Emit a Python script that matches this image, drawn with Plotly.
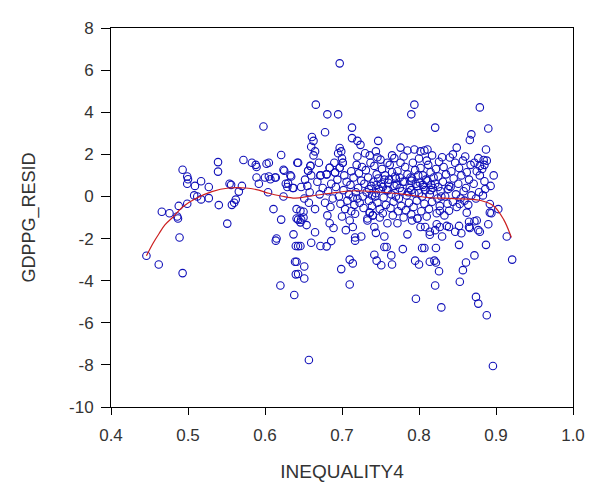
import plotly.graph_objects as go

# Scatter points: INEQUALITY4 (x) vs GDPPG_RESID (y)
x_left = [0.446, 0.462, 0.466, 0.476, 0.486, 0.487, 0.489, 0.488, 0.493, 0.493, 0.499, 0.499, 0.500, 0.499,
          0.509, 0.508, 0.512, 0.517, 0.517, 0.527, 0.527, 0.539, 0.539, 0.540, 0.551, 0.554, 0.556, 0.557,
          0.560, 0.562, 0.566, 0.570, 0.572, 0.583, 0.588, 0.589, 0.589, 0.592, 0.598, 0.602, 0.600, 0.605,
          0.604, 0.613, 0.611, 0.615, 0.614, 0.621, 0.625, 0.624, 0.621, 0.627, 0.629, 0.620, 0.634, 0.637,
          0.633, 0.639, 0.638, 0.640, 0.642, 0.643, 0.640, 0.646, 0.646, 0.641, 0.643, 0.647, 0.646, 0.641,
          0.641, 0.643, 0.643, 0.650, 0.654, 0.650, 0.651, 0.651, 0.657, 0.624, 0.614, 0.607, 0.636, 0.630,
          0.637, 0.647, 0.605]
y_left = [-2.82, -3.23, -0.73, -0.80, -0.95, -1.05, -1.95, -0.45, 1.27, -3.64, -0.35, 0.95, 0.82, 0.60,
          0.50, 0.05, 0.00, 0.72, -0.14, -0.08, 0.45, 1.63, 1.18, -0.41, -1.29, 0.60, 0.55, -0.40,
          -0.30, -0.15, 0.23, 0.50, 1.73, 1.60, 1.50, 1.40, 0.90, 0.60, 3.32, 1.55, 0.90, 0.95,
          0.20, 0.90, -0.60, -2.00, -2.10, 1.97, 1.22, 0.00, -1.10, 0.60, 0.45, -4.23, 0.95, -1.80,
          1.00, -3.10, -4.68, -3.70, 1.60, 1.60, -2.35, -2.35, -0.68, -1.05, -1.10, -1.10, -1.23, -0.60,
          -3.10, -3.68, -2.36, -1.00, -1.36, -0.73, -3.33, -3.90, -7.77, 1.27, 0.90, 0.82, 0.40, 0.62,
          0.40, 0.45, 1.60]

x_sparse = [0.666, 0.661, 0.663, 0.660, 0.665, 0.663, 0.660, 0.672, 0.681, 0.678, 0.680, 0.686, 0.684,
            0.697, 0.695, 0.697, 0.699, 0.695, 0.699, 0.713, 0.713, 0.717, 0.710, 0.714, 0.710, 0.714,
            0.710, 0.717, 0.720, 0.724, 0.730, 0.736, 0.733, 0.747, 0.744, 0.746, 0.742, 0.745, 0.742,
            0.744, 0.749, 0.751, 0.755, 0.758, 0.759, 0.768, 0.764, 0.765, 0.776, 0.779, 0.772, 0.785,
            0.794, 0.790, 0.794, 0.795, 0.796, 0.802, 0.807, 0.800, 0.804, 0.807, 0.802, 0.808, 0.811,
            0.817, 0.814, 0.814, 0.821, 0.822, 0.820, 0.822, 0.826, 0.821, 0.829, 0.821, 0.830, 0.839,
            0.844, 0.849, 0.852, 0.853, 0.857, 0.852, 0.868, 0.866, 0.861, 0.865, 0.879, 0.877, 0.879,
            0.872, 0.874, 0.877, 0.875, 0.887, 0.884, 0.885, 0.885, 0.887, 0.888, 0.890, 0.897, 0.892,
            0.894, 0.896, 0.903, 0.914, 0.921, 0.717, 0.791, 0.798, 0.733, 0.740, 0.736, 0.847, 0.865,
            0.877, 0.879, 0.890, 0.872, 0.866, 0.836, 0.823, 0.827, 0.814, 0.862, 0.892, 0.853, 0.839,
            0.827, 0.665, 0.705, 0.725, 0.755, 0.785, 0.830, 0.855, 0.689]
y_sparse = [4.36, 2.82, 2.64, 2.36, 2.14, 1.95, -2.20, -2.35, 3.90, 3.05, -2.37, -2.12, -1.27,
            6.32, 3.90, 2.30, 2.14, 2.05, -3.45, 3.27, 2.77, -2.10, -3.00, -3.18, -4.18, -1.45,
            -1.14, -0.82, 2.64, 2.45, 2.05, 1.95, -1.05, 2.64, 2.14, 1.86, -2.77, -3.05, -1.45,
            -1.73, -1.00, -3.27, -2.40, -2.40, -1.27, 1.82, -2.80, -3.23, 2.32, -2.50, -1.27, 2.18,
            4.36, 3.90, 2.23, -3.05, -4.86, 2.14, 2.18, -3.23, -2.45, -2.45, -1.45, -1.45, 2.23,
            1.95, -3.10, -1.68, 3.27, -2.45, -3.05, -3.14, -3.55, -4.23, -5.27, -1.60, 1.86, -1.45,
            2.00, 2.32, -2.30, -4.05, -3.50, -1.40, 2.95, 2.68, -3.14, -1.20, 4.23, 1.82, 1.45,
            -2.80, -4.77, -5.09, -1.14, 2.23, 1.73, 1.50, 0.72, -2.30, -5.64, 3.23, 1.00, -0.36,
            -0.80, -8.05, -0.60, -1.90, -3.00, -1.95, -1.14, -1.05, -1.14, -0.90, -0.77, -1.68, -1.45,
            -1.60, -1.68, -1.32, -1.18, -1.50, -1.40, -1.32, -1.45, -1.82, -0.77, -0.77, -0.36, -0.68,
            -0.68, -1.70, -1.60, -1.90, -1.90, -1.80, -1.90, -1.75, -1.50]

x_core = [0.659, 0.656, 0.660, 0.652, 0.655, 0.658, 0.651, 0.657,
          0.672, 0.668, 0.675, 0.671, 0.678, 0.670, 0.665,
          0.680, 0.684, 0.686, 0.682, 0.688, 0.685, 0.681,
          0.691, 0.694, 0.692, 0.696, 0.698, 0.690,
          0.697, 0.701, 0.703, 0.706, 0.702, 0.707, 0.704, 0.709, 0.700,
          0.712, 0.715, 0.711, 0.718, 0.714, 0.716, 0.719, 0.712,
          0.722, 0.725, 0.721, 0.727, 0.723, 0.728, 0.726, 0.729, 0.720,
          0.731, 0.734, 0.738, 0.732, 0.735, 0.739, 0.736, 0.737, 0.739,
          0.742, 0.745, 0.741, 0.748, 0.743, 0.746, 0.749, 0.740, 0.747, 0.744,
          0.752, 0.756, 0.751, 0.758, 0.754, 0.757, 0.753, 0.759, 0.755, 0.753,
          0.762, 0.765, 0.761, 0.768, 0.764, 0.767, 0.763, 0.769, 0.766, 0.760,
          0.772, 0.775, 0.771, 0.778, 0.774, 0.777, 0.776, 0.779, 0.773, 0.770,
          0.782, 0.785, 0.781, 0.788, 0.784, 0.787, 0.783, 0.789, 0.786, 0.780,
          0.792, 0.795, 0.791, 0.798, 0.794, 0.797, 0.793, 0.799, 0.796, 0.790, 0.790,
          0.802, 0.805, 0.801, 0.808, 0.804, 0.807, 0.803, 0.809, 0.800, 0.806, 0.798,
          0.812, 0.815, 0.811, 0.818, 0.814, 0.817, 0.813, 0.819, 0.816, 0.810,
          0.822, 0.825, 0.821, 0.828, 0.824, 0.827, 0.826, 0.829, 0.823,
          0.832, 0.835, 0.831, 0.838, 0.834, 0.837, 0.839, 0.833,
          0.842, 0.845, 0.841, 0.848, 0.844, 0.847, 0.849,
          0.852, 0.855, 0.851, 0.858, 0.854, 0.857, 0.859,
          0.862, 0.865, 0.861, 0.868, 0.867, 0.864,
          0.872, 0.875, 0.871, 0.878, 0.874, 0.879,
          0.882, 0.886, 0.883, 0.888, 0.893,
          0.700, 0.750, 0.780, 0.810, 0.840, 0.860, 0.720, 0.765,
          0.672, 0.680, 0.684, 0.691, 0.697, 0.701, 0.659, 0.656,
          0.735, 0.745, 0.760, 0.775, 0.790, 0.805, 0.815, 0.825, 0.770, 0.800]
y_core = [1.45, 1.22, 1.00, 0.80, 0.50, 0.20, -0.10, -0.30,
          1.00, 0.70, 0.40, 0.10, -0.30, 1.60, -0.60,
          1.05, 1.36, 0.60, 0.25, -0.10, -0.50, -0.90,
          1.14, 0.80, 0.45, 0.00, -0.35, 1.60,
          1.36, 1.60, 1.00, 0.70, 0.30, -0.20, -0.60, 0.10, -0.95,
          1.20, 0.90, 0.55, 0.20, -0.05, -0.40, 1.50, -0.70,
          1.10, 0.75, 0.40, 0.00, -0.30, -0.55, 1.40, 0.60, -0.10,
          1.25, 0.90, 0.50, 0.20, -0.20, -0.45, -0.77, 1.60, 0.05,
          1.45, 1.05, 0.70, 0.35, 0.00, -0.30, -0.60, -0.90, 0.85, 0.15,
          1.30, 1.00, 0.60, 0.30, -0.05, -0.40, -0.80, 1.60, 0.80, 0.45,
          1.50, 1.15, 0.80, 0.50, 0.10, -0.25, -0.55, 0.95, -0.90, 0.30,
          1.20, 0.90, 0.55, 0.25, -0.10, -0.45, 1.60, 0.70, -0.70, 0.00,
          1.40, 1.05, 0.70, 0.40, 0.05, -0.30, -0.65, 0.90, 0.20, -1.00,
          1.60, 1.25, 0.85, 0.50, 0.15, -0.20, -0.50, 1.00, 0.60, -0.85, 0.30,
          1.35, 1.00, 0.65, 0.30, 0.00, -0.35, -0.70, 0.80, 1.80, 0.45, -1.05,
          1.50, 1.15, 0.75, 0.40, 0.10, -0.25, -0.60, 0.90, 0.55, -0.95,
          1.30, 0.95, 0.60, 0.25, -0.10, -0.45, 1.65, 0.00, -0.80,
          1.40, 1.05, 0.70, 0.35, 0.00, -0.35, 0.50, -0.90,
          1.20, 0.85, 0.45, 0.10, -0.25, 1.60, -0.50,
          1.35, 1.00, 0.60, 0.25, -0.10, 1.70, -0.20,
          1.15, 0.80, 0.40, 0.05, 1.50, -0.40,
          1.60, 1.20, 0.60, 0.20, -0.10, 1.00,
          1.30, 0.35, 0.05, 1.70, 0.50,
          1.80, 1.75, 1.90, 1.70, 1.85, 1.90, 1.90, 1.95,
          1.00, 1.05, 1.36, 1.14, 1.36, 1.60, 1.45, 1.22,
          0.35, 0.55, 0.65, 0.40, 0.75, 0.55, 0.30, 0.45, 0.85, 0.15]

x_points = x_left + x_sparse + x_core
y_points = y_left + y_sparse + y_core

# Smoothing curve (red)
x_fit = [0.446, 0.455, 0.463, 0.470, 0.480, 0.493, 0.510, 0.531, 0.553, 0.575, 0.592, 0.605,
         0.621, 0.639, 0.656, 0.682, 0.717, 0.750, 0.781, 0.811, 0.845, 0.879, 0.897, 0.910, 0.920]
y_fit = [-2.82, -2.20, -1.73, -1.35, -1.00, -0.50, -0.10, 0.23, 0.40, 0.40, 0.30, 0.15,
         0.02, -0.08, 0.00, 0.14, 0.27, 0.20, 0.10, -0.05, -0.10, -0.18, -0.45, -1.10, -1.95]

x_ticks = [0.4, 0.5, 0.6, 0.7, 0.8, 0.9, 1.0]
y_ticks = [-10, -8, -6, -4, -2, 0, 2, 4, 6, 8]

fig = go.Figure()
fig.add_trace(go.Scatter(
    x=x_points, y=y_points, mode="markers",
    marker=dict(symbol="circle-open", size=7.5, color="#1010b8", line=dict(width=1.1)),
    showlegend=False, hoverinfo="x+y"))
fig.add_trace(go.Scatter(
    x=x_fit, y=y_fit, mode="lines", line=dict(color="#cc2020", width=1.2, shape="spline"),
    showlegend=False))

axis_font = dict(family="Liberation Sans, Arial, sans-serif", size=17, color="#333333")
fig.update_layout(
    width=588, height=482,
    margin=dict(l=103, r=15, t=11, b=75),
    paper_bgcolor="white", plot_bgcolor="white",
    font=dict(family="Liberation Sans, Arial, sans-serif", color="#333333"),
    xaxis=dict(range=[0.4, 1.0], tickvals=x_ticks, ticktext=[f"{v:.1f}" for v in x_ticks],
               showgrid=False, zeroline=False, showline=True, linecolor="black", linewidth=1,
               mirror=True, ticks="outside", ticklen=7, tickcolor="black", tickfont=axis_font,
               ticklabelstandoff=6,
               title=dict(text="INEQUALITY4", font=dict(size=19, color="#333333"), standoff=20)),
    yaxis=dict(range=[-10, 8], tickvals=y_ticks, ticktext=[str(v) for v in y_ticks],
               showgrid=False, zeroline=False, showline=True, linecolor="black", linewidth=1,
               mirror=True, ticks="outside", ticklen=9, tickcolor="black", tickfont=axis_font,
               ticklabelstandoff=4,
               title=dict(text="GDPPG_RESID", font=dict(size=18, color="#333333"), standoff=28)),
)
fig.write_html("out.html")
